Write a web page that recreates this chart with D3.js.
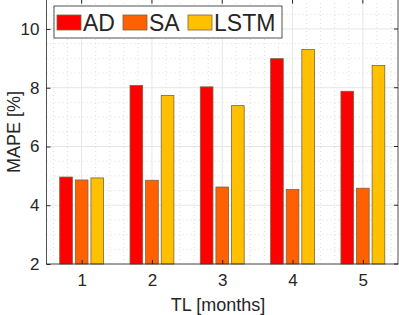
<!DOCTYPE html>
<html>
<head>
<meta charset="utf-8">
<script src="https://cdn.jsdelivr.net/npm/d3@7"></script>
<style>
  body { margin: 0; background: #fff; }
  svg text { font-family: "Liberation Sans", Arial, sans-serif; fill: #262626; }
</style>
</head>
<body>
<svg id="chart" width="399" height="315"></svg>
<script>
// data
var months = [1, 2, 3, 4, 5];
var seriesNames = ["AD", "SA", "LSTM"];
var adVals   = [4.96, 8.08, 8.03, 8.99, 7.88];
var saVals   = [4.86, 4.85, 4.62, 4.54, 4.58];
var lstmVals = [4.93, 7.74, 7.39, 9.30, 8.76];
var yTicks = [2, 4, 6, 8, 10];
var colors = ["#ff0000", "#ff6000", "#ffc000"];

var allVals = [adVals, saVals, lstmVals];

var svg = d3.select("#chart");

var x = d3.scaleLinear().domain([0.5, 5.5]).range([46.5, 398]);
var y = d3.scaleLinear().domain([2, 11]).range([264, -0.4]);

var barOff = 0.222, barW = 0.18;

// grid: minor dotted, major solid
var gridG = svg.append("g");
var minorX = d3.range(0.6, 5.5, 0.2).filter(v => Math.abs(v - Math.round(v)) > 0.01);
var minorY = d3.range(2.5, 11, 0.5).filter(v => Math.abs(v - Math.round(v / 2) * 2) > 0.01);

gridG.selectAll(".mx").data(minorX).enter().append("line")
    .attr("x1", d => x(d)).attr("x2", d => x(d))
    .attr("y1", y(2)).attr("y2", y(11))
    .attr("stroke", "#dcdcdc").attr("stroke-width", 1).attr("stroke-dasharray", "1,3");
gridG.selectAll(".my").data(minorY).enter().append("line")
    .attr("x1", x(0.5)).attr("x2", x(5.5))
    .attr("y1", d => y(d)).attr("y2", d => y(d))
    .attr("stroke", "#dcdcdc").attr("stroke-width", 1).attr("stroke-dasharray", "1,3");
gridG.selectAll(".gx").data(months).enter().append("line")
    .attr("x1", d => x(d)).attr("x2", d => x(d))
    .attr("y1", y(2)).attr("y2", y(11))
    .attr("stroke", "#e6e6e6");
gridG.selectAll(".gy").data(yTicks).enter().append("line")
    .attr("x1", x(0.5)).attr("x2", x(5.5))
    .attr("y1", d => y(d)).attr("y2", d => y(d))
    .attr("stroke", "#e6e6e6");

// bars
allVals.forEach(function (vals, s) {
    svg.append("g").selectAll("rect")
        .data(vals)
        .enter()
        .append("rect")
        .attr("x", (d, i) => x(months[i] + (s - 1) * barOff - barW / 2))
        .attr("width", x(barW) - x(0))
        .attr("y", d => y(d))
        .attr("height", d => y(2) - y(d))
        .attr("fill", colors[s])
        .attr("stroke", "#7a6440")
        .attr("stroke-width", 0.8);
});

// axes box
svg.append("rect")
    .attr("x", x(0.5)).attr("y", y(11))
    .attr("width", x(5.5) - x(0.5)).attr("height", y(2) - y(11))
    .attr("fill", "none").attr("stroke", "#262626").attr("stroke-width", 0.8);

var xAxis = d3.axisBottom(x).tickValues(months).tickFormat(d3.format("d")).tickSize(-4).tickPadding(10);
svg.append("g").attr("transform", "translate(0," + y(2) + ")").call(xAxis)
    .call(g => g.select(".domain").remove())
    .call(g => g.selectAll("line").attr("stroke", "#262626"))
    .call(g => g.selectAll("text").style("font-size", "17px").attr("fill", "#262626")
        .style("font-family", "Liberation Sans, Arial, sans-serif"));

var yAxis = d3.axisLeft(y).tickValues(yTicks).tickFormat(d3.format("d")).tickSize(-4).tickPadding(7);
svg.append("g").attr("transform", "translate(" + x(0.5) + ",0)").call(yAxis)
    .call(g => g.select(".domain").remove())
    .call(g => g.selectAll("line").attr("stroke", "#262626"))
    .call(g => g.selectAll("text").style("font-size", "17px").attr("fill", "#262626")
        .style("font-family", "Liberation Sans, Arial, sans-serif"));

// right / top ticks
svg.append("g").selectAll("line").data(yTicks).enter().append("line")
    .attr("x1", x(5.5)).attr("x2", x(5.5) - 4)
    .attr("y1", d => y(d)).attr("y2", d => y(d)).attr("stroke", "#262626");
svg.append("g").selectAll("line").data(months).enter().append("line")
    .attr("x1", d => x(d)).attr("x2", d => x(d))
    .attr("y1", y(11)).attr("y2", y(11) + 4).attr("stroke", "#262626");

// axis labels
svg.append("text")
    .attr("x", 218).attr("y", 311)
    .attr("text-anchor", "middle")
    .style("font-size", "18px")
    .text("TL [months]");
svg.append("text")
    .attr("transform", "translate(20," + 132 + ") rotate(-90)")
    .attr("text-anchor", "middle")
    .style("font-size", "18px")
    .text("MAPE [%]");

// legend
var leg = svg.append("g");
leg.append("rect")
    .attr("x", 54).attr("y", 6).attr("width", 228).attr("height", 32)
    .attr("fill", "#fff").attr("stroke", "#262626").attr("stroke-width", 0.8);
var legX = [57, 123, 188];
seriesNames.forEach(function (name, s) {
    leg.append("rect")
        .attr("x", legX[s]).attr("y", 15).attr("width", 24).attr("height", 15)
        .attr("fill", colors[s]).attr("stroke", "#7a6440").attr("stroke-width", 0.8);
    leg.append("text")
        .attr("x", legX[s] + 26).attr("y", 31)
        .style("font-size", "23px")
        .attr("fill", "#000")
        .text(name);
});
</script>
</body>
</html>
